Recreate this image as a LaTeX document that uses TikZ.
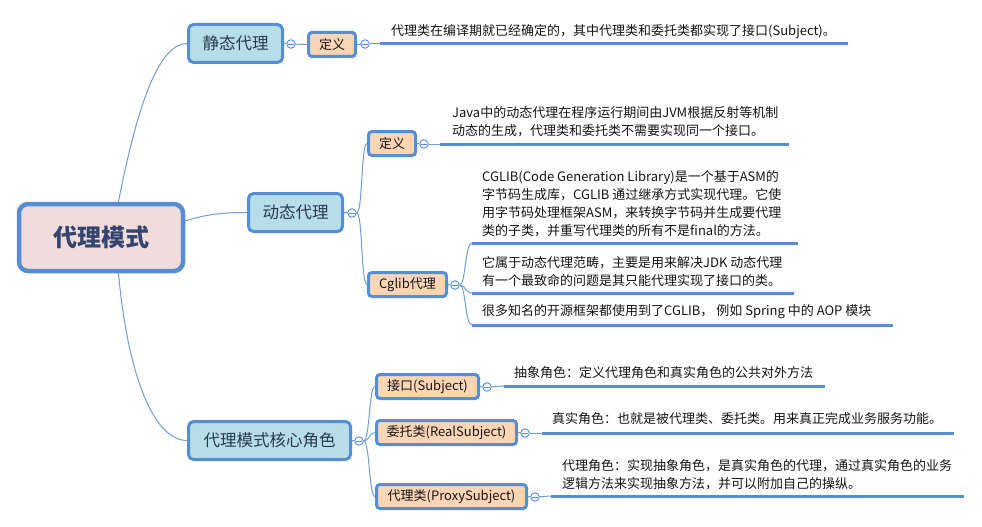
\documentclass[tikz,border=0pt]{standalone}
\usepackage{fontspec}
\setmainfont{Noto Sans CJK SC}
\usetikzlibrary{backgrounds}
\definecolor{bd}{HTML}{558ED5}
\definecolor{ln}{HTML}{6F9DD9}
\definecolor{midfill}{HTML}{B7DDE8}
\definecolor{smallfill}{HTML}{FCD5B5}
\definecolor{rootfill}{HTML}{F2DCDB}
\definecolor{roottext}{HTML}{34466E}
\definecolor{midtext}{HTML}{2A3A4C}
\definecolor{txt}{HTML}{141414}
\begin{document}
\begin{tikzpicture}[x=1pt,y=-1pt,
 rootbox/.style={draw=bd, line width=4.5pt, fill=rootfill, rounded corners=9pt, inner sep=0pt, minimum width=164pt, minimum height=67pt, font=\fontsize{24}{28}\selectfont\bfseries, text=roottext},
 midbox/.style={draw=bd, line width=3pt, fill=midfill, rounded corners=5pt, inner sep=0pt, minimum height=38pt, font=\fontsize{16.5}{20}\selectfont, text=midtext},
 smallbox/.style={draw=bd, line width=3pt, fill=smallfill, rounded corners=3.5pt, inner sep=0pt, minimum height=24pt, font=\fontsize{13}{16}\selectfont, text=txt},
 knob/.style={circle, draw=bd, line width=0.9pt, fill=white, minimum size=8.5pt, inner sep=0pt, path picture={\draw[bd, line width=0.8pt] ([xshift=-2.6pt]path picture bounding box.center) -- ([xshift=2.6pt]path picture bounding box.center);}},
 conn/.style={draw=ln, line width=1pt},
 uline/.style={draw=bd, line width=3pt},
 note/.style={anchor=west, inner sep=0pt, align=left, font=\fontsize{13}{18}\selectfont, text=txt},
]
\useasboundingbox (0,0) rectangle (982,527);

% root
\node[rootbox] (root) at (101,237.5) {代理模式};

% static
\node[midbox, minimum width=94pt] (jt) at (235.5,43.5) {静态代理};
\node[knob] (k1) at (291,44) {};
\node[smallbox, minimum width=47pt] (jdef) at (332,44.5) {定义};
\node[knob] (k2) at (365,44) {};
\coordinate (u1s) at (380,44); \coordinate (u1e) at (848,44);
\node[note] (t1) at (391,32) {代理类在编译期就已经确定的，其中代理类和委托类都实现了接口(Subject)。};

% dynamic
\node[midbox, minimum width=94pt] (dt) at (295.5,212.5) {动态代理};
\node[knob] (k3) at (352,213) {};
\node[smallbox, minimum width=47pt] (ddef) at (392,143.5) {定义};
\node[knob] (k4) at (424,144) {};
\coordinate (u2s) at (440,144); \coordinate (u2e) at (789,144);
\node[note] (t2) at (452,122) {Java中的动态代理在程序运行期间由JVM根据反射等机制\\动态的生成，代理类和委托类不需要实现同一个接口。};
\node[smallbox, minimum width=78pt] (cg) at (407.5,284.5) {Cglib代理};
\node[knob] (k5) at (455,285) {};
\coordinate (u3s) at (472,243); \coordinate (u3e) at (798,243);
\coordinate (u4s) at (472,293); \coordinate (u4e) at (794,293);
\coordinate (u5s) at (472,325); \coordinate (u5e) at (893,325);
\node[note] (t3) at (482,204) {CGLIB(Code Generation Library)是一个基于ASM的\\字节码生成库，CGLIB 通过继承方式实现代理。它使\\用字节码处理框架ASM，来转换字节码并生成要代理\\类的子类，并重写代理类的所有不是final的方法。};
\node[note] (t4) at (482,271.5) {它属于动态代理范畴，主要是用来解决JDK 动态代理\\有一个最致命的问题是其只能代理实现了接口的类。};
\node[note] (t5) at (482,312) {很多知名的开源框架都使用到了CGLIB， 例如 Spring 中的 AOP 模块};

% core roles
\node[midbox, minimum width=162pt] (core) at (269.5,440.5) {代理模式核心角色};
\node[knob] (k6) at (359,441) {};
\node[smallbox, minimum width=102pt] (sub) at (427.5,386.5) {接口(Subject)};
\node[knob] (k7) at (487,387) {};
\coordinate (u6s) at (504,386); \coordinate (u6e) at (825,386);
\node[note] (t6) at (514,373) {抽象角色：定义代理角色和真实角色的公共对外方法};
\node[smallbox, minimum width=140pt] (real) at (446.5,432.5) {委托类(RealSubject)};
\node[knob] (k8) at (525,433) {};
\coordinate (u7s) at (542,433); \coordinate (u7e) at (954,433);
\node[note] (t7) at (552,419) {真实角色：也就是被代理类、委托类。用来真正完成业务服务功能。};
\node[smallbox, minimum width=150pt] (proxy) at (451.5,496.5) {代理类(ProxySubject)};
\node[knob] (k9) at (535,497) {};
\coordinate (u8s) at (551,496); \coordinate (u8e) at (964,496);
\node[note] (t8) at (562,475) {代理角色：实现抽象角色，是真实角色的代理，通过真实角色的业务\\逻辑方法来实现抽象方法，并可以附加自己的操纵。};

\begin{scope}[on background layer]
 % root branches
 \draw[conn] (root.64) .. controls +(20,-102) and +(-27,0) .. (jt.west);
 \draw[conn] (root.11) .. controls +(20,-7) and +(-22,0) .. (dt.west);
 \draw[conn] (root.-64) .. controls +(10,107) and +(-32,0) .. (core.west);
 % static
 \draw[conn] (jt.east) -- (k1);
 \draw[conn] (k1) -- (jdef.west);
 \draw[conn] (jdef.east) -- (k2);
 \draw[conn] (k2) -- (u1s);
 \draw[uline] (u1s) -- (u1e);
 % dynamic
 \draw[conn] (dt.east) -- (k3);
 \draw[conn] (k3.east) .. controls +(6,0) and +(-6,0) .. (ddef.west);
 \draw[conn] (k3.east) .. controls +(6,0) and +(-6,0) .. (cg.west);
 \draw[conn] (ddef.east) -- (k4);
 \draw[conn] (k4) -- (u2s);
 \draw[uline] (u2s) -- (u2e);
 \draw[conn] (cg.east) -- (k5);
 \draw[conn] (k5.east) .. controls +(6,0) and +(-7,0) .. (u3s);
 \draw[conn] (k5.east) .. controls +(6,0) and +(-7,0) .. (u4s);
 \draw[conn] (k5.east) .. controls +(6,0) and +(-7,0) .. (u5s);
 \draw[uline] (u3s) -- (u3e);
 \draw[uline] (u4s) -- (u4e);
 \draw[uline] (u5s) -- (u5e);
 % core
 \draw[conn] (core.east) -- (k6);
 \draw[conn] (k6.east) .. controls +(6,0) and +(-6,0) .. (sub.west);
 \draw[conn] (k6.east) .. controls +(6,0) and +(-6,0) .. (real.west);
 \draw[conn] (k6.east) .. controls +(6,0) and +(-6,0) .. (proxy.west);
 \draw[conn] (sub.east) -- (k7);
 \draw[conn] (k7) -- (u6s);
 \draw[uline] (u6s) -- (u6e);
 \draw[conn] (real.east) -- (k8);
 \draw[conn] (k8) -- (u7s);
 \draw[uline] (u7s) -- (u7e);
 \draw[conn] (proxy.east) -- (k9);
 \draw[conn] (k9) -- (u8s);
 \draw[uline] (u8s) -- (u8e);
\end{scope}
\end{tikzpicture}
\end{document}
